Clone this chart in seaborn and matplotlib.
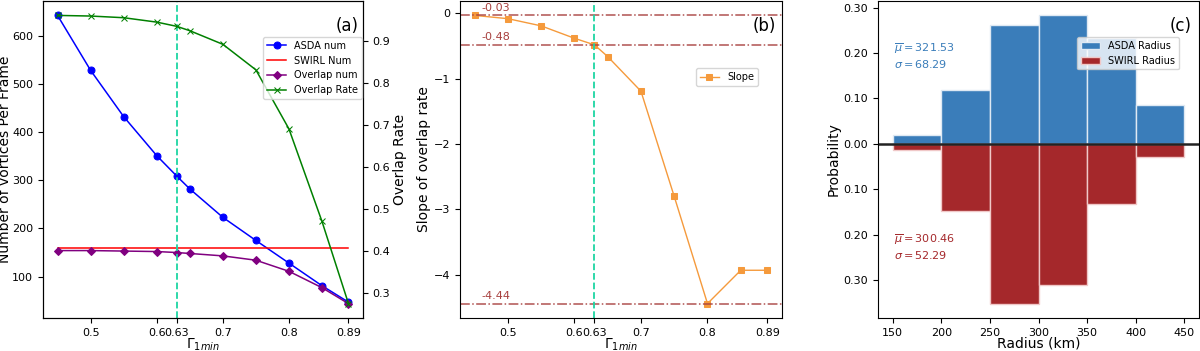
import numpy as np
import seaborn as sns
import matplotlib.pyplot as plt
from matplotlib.ticker import FuncFormatter

# threshold values of Gamma_1min
gamma = [0.45, 0.5, 0.55, 0.6, 0.63, 0.65, 0.7, 0.75, 0.8, 0.85, 0.89]
gamma_ticks = [0.5, 0.6, 0.63, 0.7, 0.8, 0.89]
gamma_ticklabels = ['0.5', '0.6', '0.63', '0.7', '0.8', '0.89']

# panel (a) values
asda_num = [642, 528, 432, 351, 309, 282, 223, 175, 128, 81, 47]
swirl_num = [160] * 11
overlap_num = [154, 154, 153, 152, 150, 148, 143, 134, 111, 77, 44]
overlap_rate = [0.962, 0.9605, 0.9565, 0.946, 0.936, 0.9255, 0.893, 0.832, 0.691, 0.470, 0.274]

# panel (b) values
slope = [-0.03, -0.08, -0.19, -0.38, -0.48, -0.66, -1.19, -2.80, -4.44, -3.93, -3.93]
slope_marks = [-0.03, -0.48, -4.44]

# panel (c) values
radius_edges = [150, 200, 250, 300, 350, 400, 450]
asda_prob = [0.019, 0.118, 0.262, 0.283, 0.233, 0.085]
swirl_prob = [0.013, 0.148, 0.352, 0.311, 0.132, 0.029]

vline_color = '#1dd6a3'
blue = '#3a7dba'
red = '#a5282b'
label_fs = 10

fig = plt.figure(figsize=(12, 3.51), dpi=100)
ax1 = fig.add_axes([43 / 1200, 33 / 351, 320 / 1200, 317 / 351])
ax2 = fig.add_axes([460 / 1200, 33 / 351, 322 / 1200, 317 / 351])
ax3 = fig.add_axes([878 / 1200, 33 / 351, 321 / 1200, 317 / 351])

# ---- panel (a)
sns.lineplot(x=gamma, y=asda_num, marker='o', color='blue', markersize=5,
             markeredgecolor='blue', linewidth=1.1, label='ASDA num', ax=ax1, legend=False)
sns.lineplot(x=gamma, y=swirl_num, color='red', linewidth=1.1, label='SWIRL Num', ax=ax1, legend=False)
sns.lineplot(x=gamma, y=overlap_num, marker='D', color='purple', markersize=4.5,
             markeredgecolor='purple', linewidth=1.1, label='Overlap num', ax=ax1, legend=False)
ax1.axvline(0.63, color=vline_color, linestyle='--', linewidth=1.3)
ax1.set_ylabel('Number of vortices Per Frame', fontsize=label_fs, labelpad=0)
ax1.set_xlabel(r'$\Gamma_{1min}$', fontsize=label_fs, labelpad=-1)
ax1.set_xticks(gamma_ticks)
ax1.set_xticklabels(gamma_ticklabels)
ax1.tick_params(labelsize=8)

ax1r = ax1.twinx()
sns.lineplot(x=gamma, y=overlap_rate, marker='x', color='green', markersize=4,
             markeredgecolor='green', linewidth=1.1, label='Overlap Rate', ax=ax1r, legend=False)
ax1r.set_ylabel('Overlap Rate', fontsize=label_fs, labelpad=2)
ax1r.tick_params(labelsize=8)

h1, l1 = ax1.get_legend_handles_labels()
h2, l2 = ax1r.get_legend_handles_labels()
ax1r.legend(h1 + h2, l1 + l2, loc='upper right', bbox_to_anchor=(1.0, 0.89),
            borderaxespad=0.1, fontsize=7)
ax1.text(0.985, 0.92, '(a)', transform=ax1.transAxes, ha='right', va='center', fontsize=12)

# ---- panel (b)
sns.lineplot(x=gamma, y=slope, marker='s', color='#f59a3c', markersize=4,
             markeredgecolor='#f59a3c', linewidth=1.0, label='Slope', ax=ax2, legend=False)
for v in slope_marks:
    ax2.axhline(v, color='#a8403e', linestyle='-.', linewidth=1.1, alpha=0.9)
    ax2.text(0.46, v + 0.04, f'{v:.2f}', color='#a8403e', fontsize=8, ha='left', va='bottom')
ax2.axvline(0.63, color=vline_color, linestyle='--', linewidth=1.3)
ax2.set_ylabel('Slope of overlap rate', fontsize=label_fs, labelpad=2)
ax2.set_xlabel(r'$\Gamma_{1min}$', fontsize=label_fs, labelpad=-1)
ax2.set_xticks(gamma_ticks)
ax2.set_xticklabels(gamma_ticklabels)
ax2.tick_params(labelsize=8)
ax2.legend(loc='center right', bbox_to_anchor=(0.94, 0.76), fontsize=7)
ax2.text(0.98, 0.92, '(b)', transform=ax2.transAxes, ha='right', va='center', fontsize=12)

# ---- panel (c)
centers = [(a + b) / 2 for a, b in zip(radius_edges[:-1], radius_edges[1:])]
ax3.bar(centers, asda_prob, width=50, color=blue, edgecolor='#dfe9f3', linewidth=1,
        label='ASDA Radius')
ax3.bar(centers, [-p for p in swirl_prob], width=50, color=red, edgecolor='#f0c8c8',
        linewidth=1, label='SWIRL Radius')
ax3.axhline(0, color='#222222', linewidth=1.8)
ax3.set_yticks([-0.3, -0.2, -0.1, 0.0, 0.1, 0.2, 0.3])
ax3.yaxis.set_major_formatter(FuncFormatter(lambda v, p: f'{abs(v):.2f}'))
ax3.set_xticks(radius_edges)
ax3.tick_params(labelsize=8)
ax3.set_xlabel('Radius (km)', fontsize=label_fs, labelpad=-1)
ax3.set_ylabel('Probability', fontsize=label_fs, labelpad=2)
ax3.text(151, 0.225, '$\\overline{\\mu} = 321.53$\n$\\sigma = 68.29$', color=blue,
         fontsize=8, va='top', ha='left')
ax3.text(151, -0.195, '$\\overline{\\mu} = 300.46$\n$\\sigma = 52.29$', color=red,
         fontsize=8, va='top', ha='left')
ax3.legend(loc='upper right', bbox_to_anchor=(0.94, 0.89), borderaxespad=0.1, fontsize=7)
ax3.text(0.977, 0.92, '(c)', transform=ax3.transAxes, ha='right', va='center', fontsize=12)

fig.savefig('out.png', dpi=100)
